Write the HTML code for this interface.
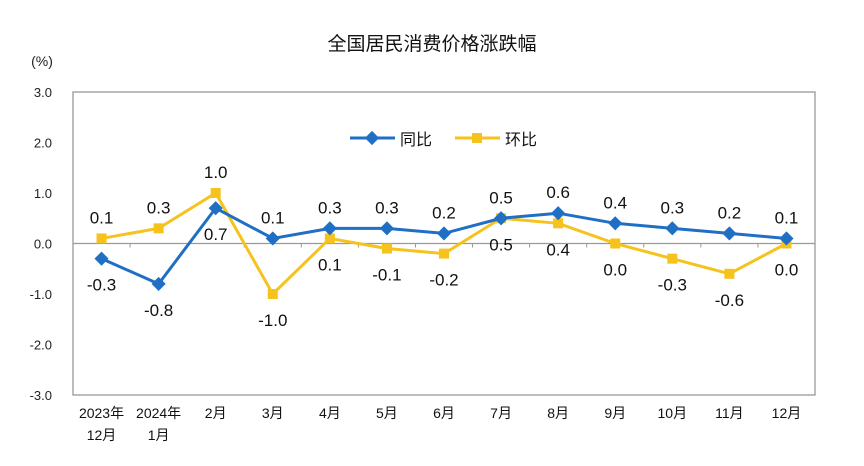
<!DOCTYPE html>
<html><head><meta charset="utf-8"><style>
body{margin:0;background:#fff;}
svg{display:block;font-family:"Liberation Sans","Noto Sans CJK SC",sans-serif;}
</style></head><body>
<svg width="864" height="466" id="c">
<text x="432" y="50" text-anchor="middle" font-size="19" fill="#111">全国居民消费价格涨跌幅</text>
<text x="42" y="66" text-anchor="middle" font-size="14" fill="#222">(%)</text>
<rect x="73" y="92" width="742" height="303" fill="none" stroke="#999" stroke-width="1.3"/>
<g>
<g><line x1="350" y1="138" x2="395" y2="138" stroke="#1f6fc5" stroke-width="3"/><rect x="367" y="133" width="10" height="10" fill="#1f6fc5" transform="rotate(45 372 138)"/><text x="400" y="145" font-size="16" fill="#111">同比</text></g>
<g><line x1="455" y1="138" x2="500" y2="138" stroke="#f6c21c" stroke-width="3"/><rect x="472" y="133" width="10" height="10" fill="#f6c21c"/><text x="505" y="145" font-size="16" fill="#111">环比</text></g>
</g>
<g id="axes"></g><g id="series"></g>
</svg>
<script>
const categories=[["2023年","12月"],["2024年","1月"],["2月"],["3月"],["4月"],["5月"],["6月"],["7月"],["8月"],["9月"],["10月"],["11月"],["12月"]];
const yoy=[-0.3,-0.8,0.7,0.1,0.3,0.3,0.2,0.5,0.6,0.4,0.3,0.2,0.1];
const mom=[0.1,0.3,1.0,-1.0,0.1,-0.1,-0.2,0.5,0.4,0.0,-0.3,-0.6,0.0];
const yoyPlace=["b","b","b","a","a","a","a","a","a","a","a","a","a"];
const momPlace=["a","a","a","b","b","b","b","b","b","b","b","b","b"];
const yTicks=[3,2,1,0,-1,-2,-3];
const NS="http://www.w3.org/2000/svg";
const L=73,R=815,T=92,B=395,bw=(R-L)/categories.length;
const X=i=>L+bw*(i+0.5);
const Y=v=>T+(3-v)/6*(B-T);
function mk(tag,attrs,parent){const e=document.createElementNS(NS,tag);for(const k in attrs)e.setAttribute(k,attrs[k]);parent.appendChild(e);return e;}
const ax=document.getElementById('axes'),se=document.getElementById('series');
yTicks.forEach(v=>{const t=mk('text',{x:52,y:Y(v)+5,'text-anchor':'end','font-size':13,fill:'#222'},ax);t.textContent=v.toFixed(1);

});
const z=mk('line',{x1:L,x2:R,y1:Y(0),y2:Y(0),stroke:'#999','stroke-width':1.3},ax);


categories.forEach((c,i)=>{if(i>0)mk('line',{x1:L+bw*i,x2:L+bw*i,y1:Y(0),y2:Y(0)+4,stroke:'#999'},ax);
c.forEach((s,j)=>{const t=mk('text',{x:X(i),y:418+j*22,'text-anchor':'middle','font-size':14,fill:'#111'},ax);t.textContent=s;

});});
function draw(vals,place,color,name,shape){
const p=mk('polyline',{points:vals.map((v,i)=>X(i)+','+Y(v)).join(' '),fill:'none',stroke:color,'stroke-width':3},se);


vals.forEach((v,i)=>{let m;
if(shape==='d')m=mk('rect',{x:X(i)-5,y:Y(v)-5,width:10,height:10,fill:color,transform:`rotate(45 ${X(i)} ${Y(v)})`},se);
else m=mk('rect',{x:X(i)-5,y:Y(v)-5,width:10,height:10,fill:color},se);


const t=mk('text',{x:X(i),y:Y(v)+(place[i]==='a'?-15:32),'text-anchor':'middle','font-size':17,fill:'#111'},se);
t.textContent=v.toFixed(1);

});}
draw(mom,momPlace,'#f6c21c','mom','s');
draw(yoy,yoyPlace,'#1f6fc5','yoy','d');
</script>
</body></html>
